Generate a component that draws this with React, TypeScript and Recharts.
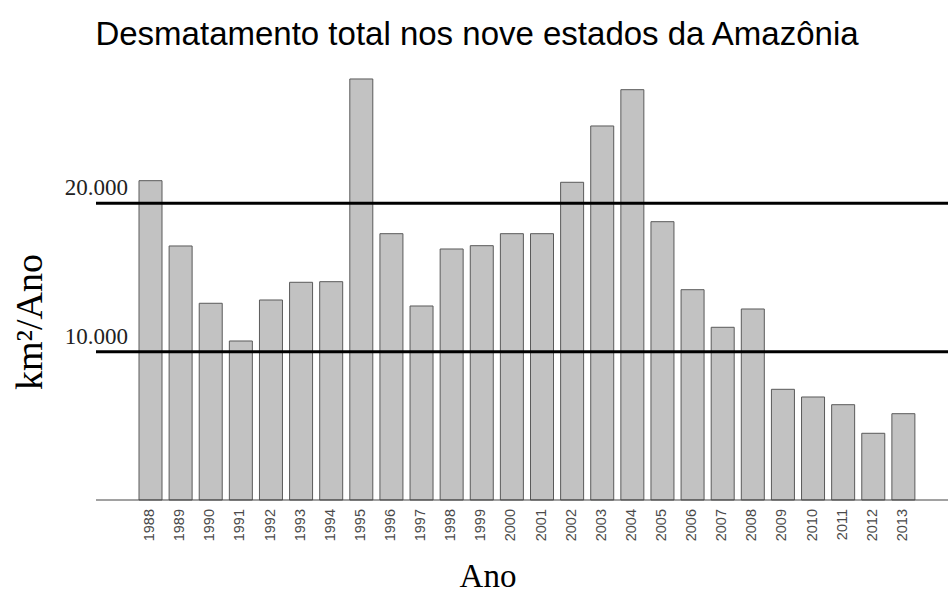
import React from "react"
import { Bar, BarChart, ReferenceLine, XAxis, YAxis } from "recharts"

// anos e desmatamento (km²/ano)
const anos = [
  "1988", "1989", "1990", "1991", "1992", "1993", "1994", "1995", "1996",
  "1997", "1998", "1999", "2000", "2001", "2002", "2003", "2004", "2005",
  "2006", "2007", "2008", "2009", "2010", "2011", "2012", "2013",
]
const desmatamento = [
  21527, 17125, 13262, 10720, 13484, 14677, 14718, 28384, 17954,
  13079, 16922, 17145, 17954, 17954, 21419, 25215, 27662, 18763,
  14178, 11643, 12877, 7463, 6944, 6425, 4497, 5818,
]
const linhasReferencia = [20000, 10000]
const rotulosReferencia = ["20.000", "10.000"]

const dados = anos.map((ano, i) => ({ ano, valor: desmatamento[i] }))

const serif = "'Liberation Serif', 'Times New Roman', serif"
const sans = "'Liberation Sans', Arial, sans-serif"

function TickAno({ x, y, payload }: any) {
  return (
    <text
      transform={`translate(${x + 4},${y}) rotate(-90)`}
      textAnchor="end"
      fill="#4a4a4a"
      fontSize={14.5}
      fontFamily={sans}
    >
      {payload.value}
    </text>
  )
}

function RotuloLinha({ viewBox, texto }: any) {
  return (
    <text x={viewBox.x + 32} y={viewBox.y - 8} textAnchor="end" fill="#222" fontSize={23} fontFamily={serif}>
      {texto}
    </text>
  )
}

export default function App() {
  return (
    <div style={{ position: "absolute", left: 0, top: 0, width: 948, height: 595, background: "#fff" }}>
      <div
        style={{
          position: "absolute",
          top: 15,
          left: 3,
          width: 948,
          textAlign: "center",
          fontFamily: sans,
          fontSize: 33,
          lineHeight: "normal",
          color: "#000",
          whiteSpace: "nowrap",
        }}
      >
        Desmatamento total nos nove estados da Amazônia
      </div>
      <BarChart width={948} height={595} data={dados} margin={{ top: 55, right: 0, left: 0, bottom: 0 }}>
        <XAxis
          dataKey="ano"
          interval={0}
          padding={{ left: 39, right: 30 }}
          height={95}
          tickLine={false}
          tickSize={0}
          tickMargin={9}
          axisLine={{ stroke: "#444", strokeWidth: 1 }}
          tick={<TickAno />}
          label={{
            content: () => (
              <text x={488} y={587} textAnchor="middle" fill="#000" fontSize={33} fontFamily={serif}>
                Ano
              </text>
            ),
          }}
        />
        <YAxis
          width={96}
          domain={[0, 30000]}
          tick={false}
          tickLine={false}
          axisLine={false}
          label={{
            content: () => (
              <text transform="translate(42,322) rotate(-90)" textAnchor="middle" fill="#000" fontSize={38} fontFamily={serif}>
                km²/Ano
              </text>
            ),
          }}
        />
        <Bar dataKey="valor" fill="#c2c2c2" stroke="#5a5a5a" strokeWidth={1} barSize={23} isAnimationActive={false} />
        {linhasReferencia.map((v, i) => (
          <ReferenceLine
            key={v}
            y={v}
            stroke="#000"
            strokeWidth={3}
            label={{ content: (p: any) => <RotuloLinha {...p} texto={rotulosReferencia[i]} /> }}
          />
        ))}
      </BarChart>
    </div>
  )
}
